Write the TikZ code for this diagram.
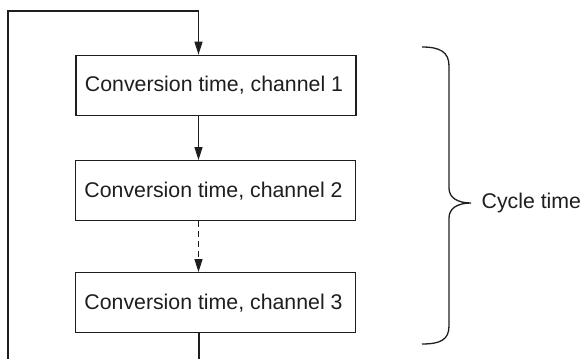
\documentclass[tikz,border=0pt]{standalone}
\usepackage{fontspec}
\setmainfont{Liberation Sans}
\usetikzlibrary{arrows.meta}
\definecolor{ink}{HTML}{1E1E1E}
\begin{document}
\begin{tikzpicture}[x=1pt,y=-1pt,
  line width=1.3pt, draw=ink,
  convbox/.style={draw=ink, line width=1.3pt, minimum width=280pt, minimum height=60pt,
    inner sep=0pt, font=\fontsize{21.3}{25}\selectfont, text=ink},
  arr/.style={-{Triangle[length=13pt,width=8pt]}, draw=ink, line width=1.3pt},
  bracestyle/.style={draw=ink, line width=1.3pt}]
\useasboundingbox (0,0) rectangle (582,359);
\node[convbox, line width=1.7pt] (b1) at (216,85.5) {\hspace*{-4pt}Conversion time, channel 1};
\node[convbox] (b2) at (215.5,190.7) {\hspace*{-4pt}Conversion time, channel 2};
\node[convbox] (b3) at (215.5,302.7) {\hspace*{-4pt}Conversion time, channel 3};
\coordinate (ax) at (198.5,11);
\coordinate (lc) at (8,11);
\coordinate (lb) at (8,359);
\coordinate (bot) at (199,359);
\draw[arr] (lb) -- (lc) -- (ax) -- (b1.north -| ax);
\draw[arr] (b1.south -| ax) -- (b2.north -| ax);
\draw[arr, dash pattern=on 6pt off 4pt] (b2.south -| ax) -- (b3.north -| ax);
\draw (b3.south -| bot) -- (bot);
\draw[bracestyle] (422,47) .. controls (440,47) and (449,52) .. (449,66)
  -- (449,188) .. controls (449,198) and (458,203) .. (471,203)
  .. controls (458,203) and (449,208) .. (449,218)
  -- (449,326) .. controls (449,340) and (440,344) .. (422,344);
\node[anchor=west, inner sep=0pt, font=\fontsize{21.3}{25}\selectfont, text=ink] (ct) at (481,203) {Cycle time};
\end{tikzpicture}
\end{document}
